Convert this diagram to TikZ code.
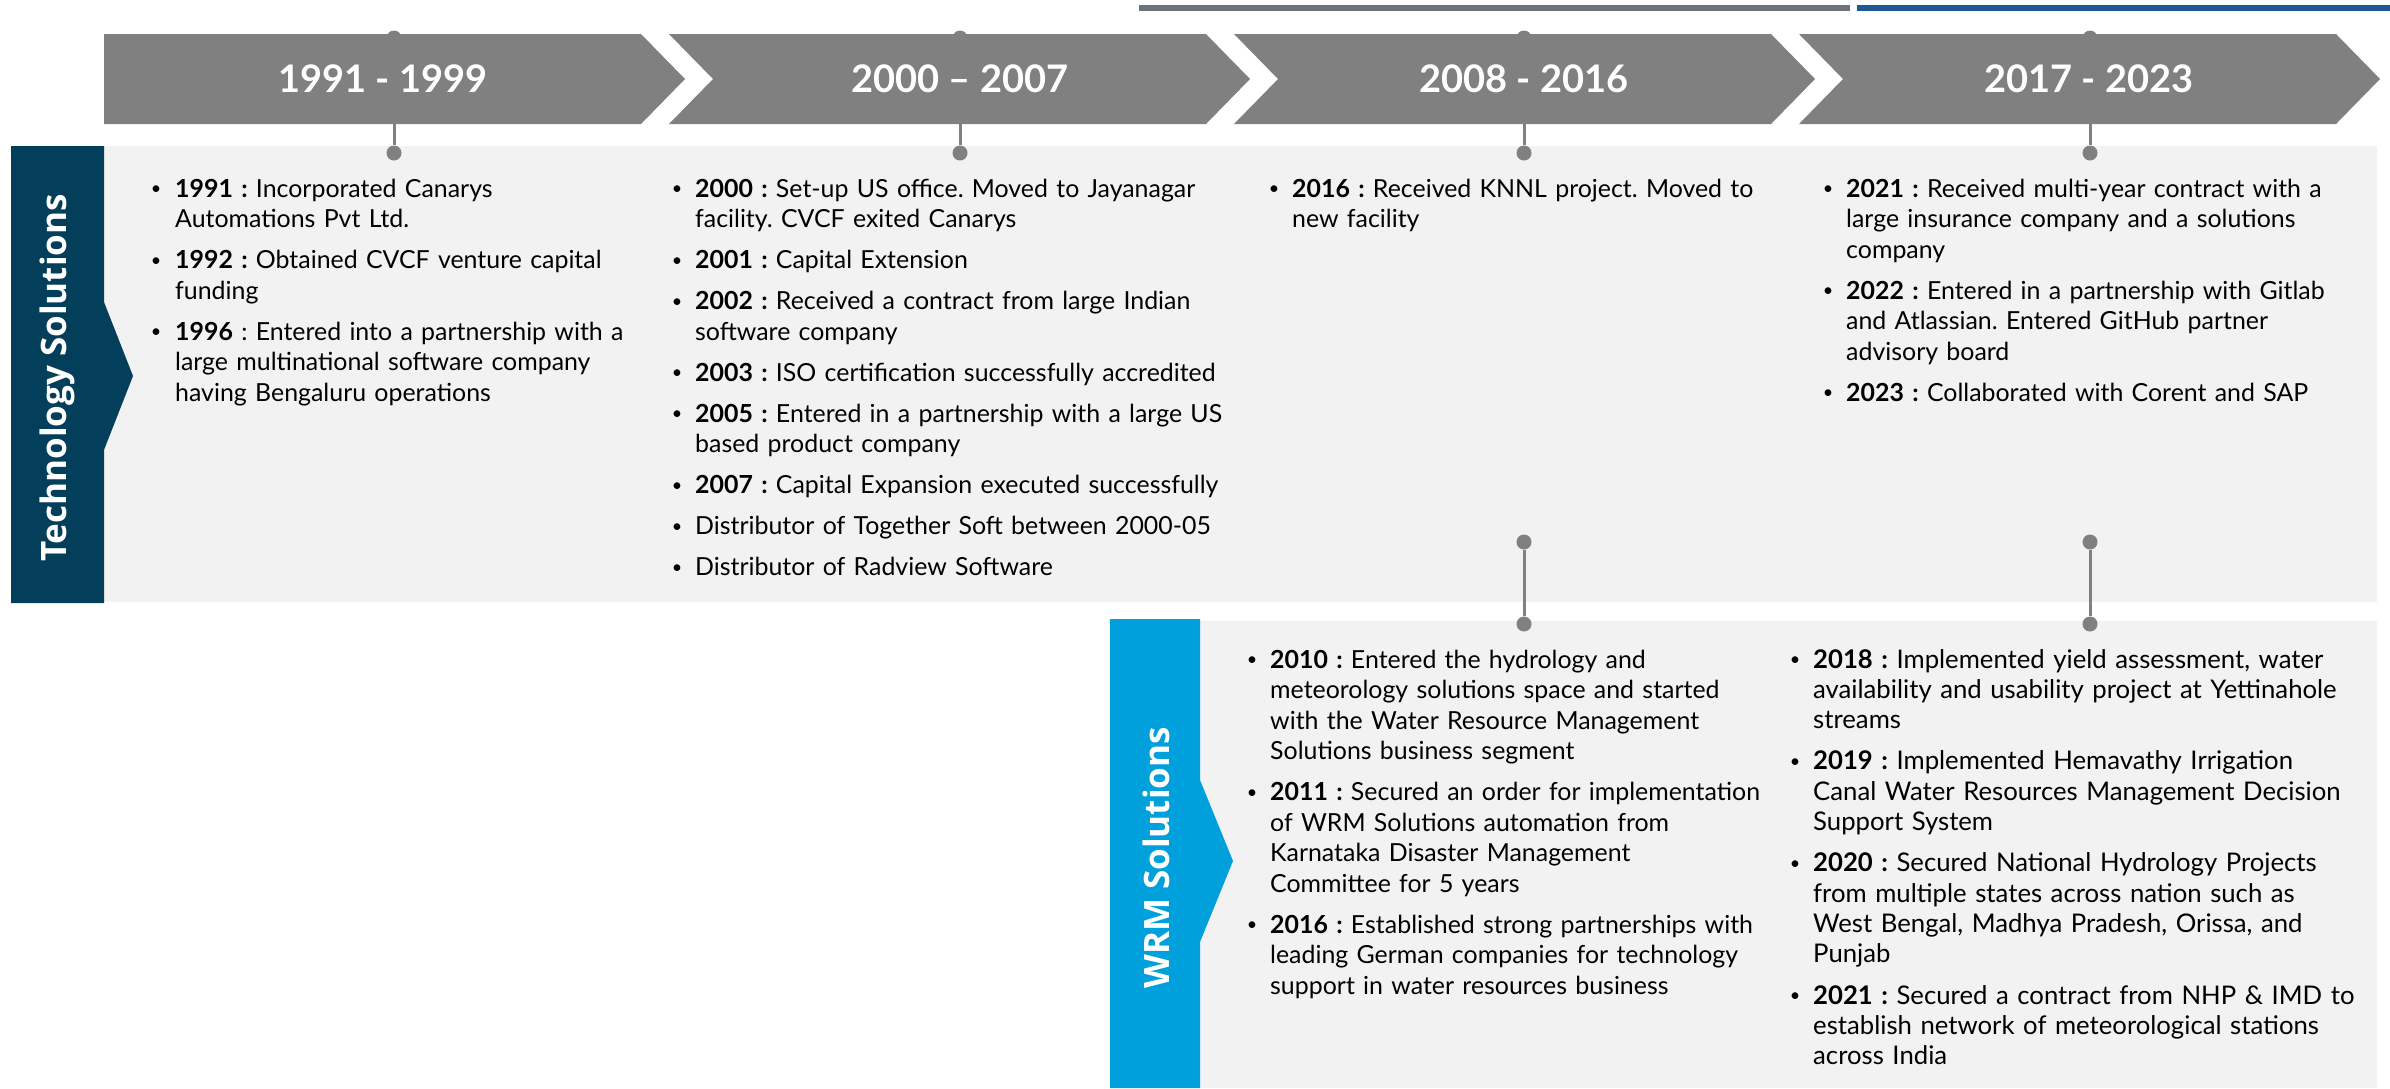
\documentclass[tikz,border=0pt]{standalone}
\usepackage{fontspec}
\setmainfont{Lato}
\newfontfamily\labfont{Open Sans}
\definecolor{chevgray}{HTML}{808080}
\definecolor{panelbg}{HTML}{F2F2F2}
\definecolor{techblue}{HTML}{033F5A}
\definecolor{wrmblue}{HTML}{00A0DC}
\definecolor{topgray}{HTML}{6D737A}
\definecolor{topblue}{HTML}{1D5A95}
\newlength\bulgap
\newcommand\yr[1]{\textbf{#1}}
\newcommand\bul{\leavevmode\llap{\raisebox{2.5pt}{\fontsize{18}{18}\selectfont\textbullet}\hspace{\bulgap}}}
\frenchspacing
\begin{document}
\begin{tikzpicture}[x=1pt,y=-1pt,
  yeartxt/.style={text=white,font=\fontsize{38}{44}\selectfont\bfseries,inner sep=0pt},
  lab/.style={text=white,font=\labfont\bfseries\fontsize{35}{40}\selectfont,inner sep=0pt,rotate=90},
  dot/.style={circle,fill=chevgray,minimum size=15pt,inner sep=0pt},
  link/.style={draw=chevgray,line width=3pt},
  body/.style={anchor=base west,inner sep=0pt,text width=640pt,align=left,
    font=\fontsize{24.9}{30.5}\selectfont\frenchspacing},
  bodywide/.style={body,font=\fontsize{25.7}{30.3}\selectfont\frenchspacing}]
\useasboundingbox (0,0) rectangle (2390,1088);
% top lines
\fill[topgray] (1139,5) rectangle (1850,11);
\fill[topblue] (1857,5) rectangle (2390,11);
% panels
\fill[panelbg] (104,146) rectangle (2377,602);
\fill[techblue] (11,146) -- (104,146) -- (104,302) -- (133,376) -- (104,450) -- (104,603) -- (11,603) -- cycle;
\node[lab] (tlab) at (57,378) {Technology Solutions};
\fill[panelbg] (1200,621) rectangle (2377,1088);
\fill[wrmblue] (1110,619) -- (1200,619) -- (1200,780) -- (1233,861) -- (1200,942) -- (1200,1088) -- (1110,1088) -- cycle;
\node[lab] (wlab) at (1156,858) {WRM Solutions};
% connectors
\foreach \i/\x in {1/394,2/960,3/1524,4/2090}{
  \node[dot] (top\i) at (\x,38) {};
  \node[dot] (bot\i) at (\x,153) {};
  \draw[link] (top\i) -- (bot\i);
}
\foreach \i/\x in {3/1524,4/2090}{
  \node[dot] (mida\i) at (\x,542) {};
  \node[dot] (midb\i) at (\x,624) {};
  \draw[link] (mida\i) -- (midb\i);
}
% chevrons
\fill[chevgray] (104,34) -- (641,34) -- (685,79) -- (641,124) -- (104,124) -- cycle;
\fill[chevgray] (669,34) -- (1206,34) -- (1250,79) -- (1206,124) -- (669,124) -- (713,79) -- cycle;
\fill[chevgray] (1234,34) -- (1771,34) -- (1815,79) -- (1771,124) -- (1234,124) -- (1278,79) -- cycle;
\fill[chevgray] (1799,34) -- (2336,34) -- (2380,79) -- (2336,124) -- (1799,124) -- (1843,79) -- cycle;
\node[yeartxt] (y1) at (383,79) {1991 - 1999};
\node[yeartxt] (y2) at (960,79) {2000 – 2007};
\node[yeartxt] (y3) at (1524,79) {2008 - 2016};
\node[yeartxt] (y4) at (2089,79) {2017 - 2023};
% texts
\node[body] (t1) at (175,197) {\setlength\bulgap{14pt}\setlength\parskip{10.5pt}%
\bul\yr{1991 :} Incorporated Canarys\\Automations Pvt Ltd.\par
\bul\yr{1992 :} Obtained CVCF venture capital\\funding\par
\bul\yr{1996} : Entered into a partnership with a\\large multinational software company\\having Bengaluru operations};
\node[body] (t2) at (695,197) {\setlength\bulgap{13pt}\setlength\parskip{10.5pt}%
\bul\yr{2000 :} Set-up US office. Moved to Jayanagar\\facility. CVCF exited Canarys\par
\bul\yr{2001 :} Capital Extension\par
\bul\yr{2002 :} Received a contract from large Indian\\software company\par
\bul\yr{2003 :} ISO certification successfully accredited\par
\bul\yr{2005 :} Entered in a partnership with a large US\\based product company\par
\bul\yr{2007 :} Capital Expansion executed successfully\par
\bul Distributor of Together Soft between 2000-05\par
\bul Distributor of Radview Software};
\node[body] (t3) at (1292,197) {\setlength\bulgap{13pt}\setlength\parskip{10.5pt}%
\bul\yr{2016 :} Received KNNL project. Moved to\\new facility};
\node[body] (t4) at (1846,197) {\setlength\bulgap{13pt}\setlength\parskip{10.5pt}%
\bul\yr{2021 :} Received multi-year contract with a\\large insurance company and a solutions\\company\par
\bul\yr{2022 :} Entered in a partnership with Gitlab\\and Atlassian. Entered GitHub partner\\advisory board\par
\bul\yr{2023 :} Collaborated with Corent and SAP};
\node[body] (w3) at (1270,668) {\setlength\bulgap{13pt}\setlength\parskip{10.5pt}%
\bul\yr{2010 :} Entered the hydrology and\\meteorology solutions space and started\\with the Water Resource Management\\Solutions business segment\par
\bul\yr{2011 :} Secured an order for implementation\\of WRM Solutions automation from\\Karnataka Disaster Management\\Committee for 5 years\par
\bul\yr{2016 :} Established strong partnerships with\\leading German companies for technology\\support in water resources business};
\node[bodywide] (w4) at (1813,668) {\setlength\bulgap{13pt}\setlength\parskip{11pt}%
\bul\yr{2018 :} Implemented yield assessment, water\\availability and usability project at Yettinahole\\streams\par
\bul\yr{2019 :} Implemented Hemavathy Irrigation\\Canal Water Resources Management Decision\\Support System\par
\bul\yr{2020 :} Secured National Hydrology Projects\\from multiple states across nation such as\\West Bengal, Madhya Pradesh, Orissa, and\\Punjab\par
\bul\yr{2021 :} Secured a contract from NHP \& IMD to\\establish network of meteorological stations\\across India};
\end{tikzpicture}
\end{document}
